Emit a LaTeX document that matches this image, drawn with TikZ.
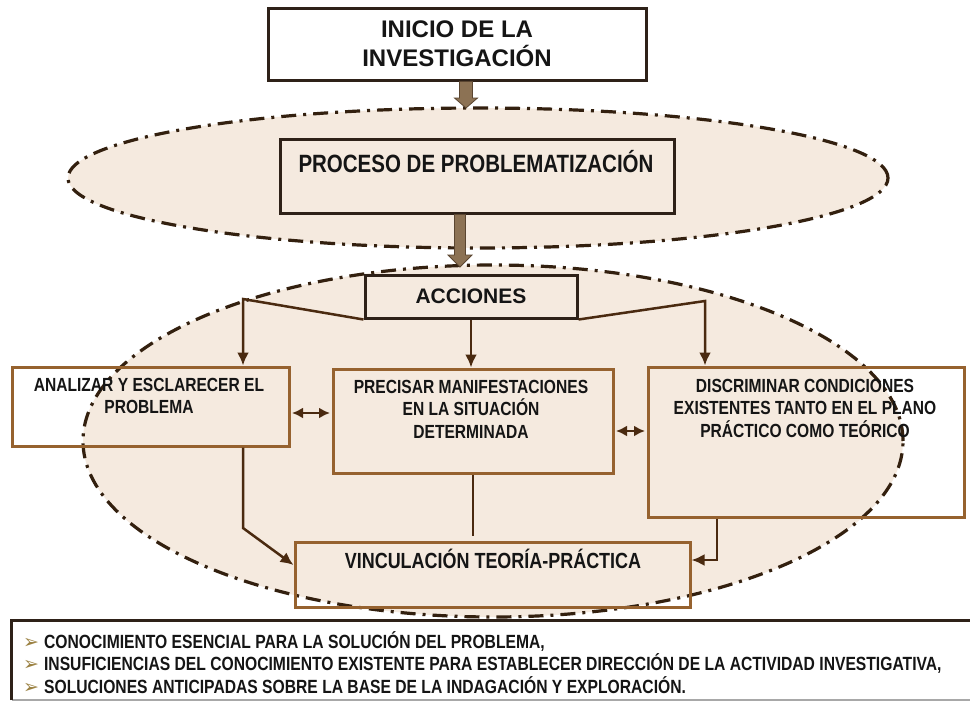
\documentclass[tikz,border=0pt]{standalone}
\usepackage{fontspec}
\setmainfont{Liberation Sans}
\newfontfamily\narrowfont{Liberation Sans}[FakeStretch=0.82]
\newfontfamily\symfont{DejaVu Sans}
\usetikzlibrary{arrows.meta,calc}
\definecolor{ellfill}{HTML}{F5EADF}
\definecolor{ellline}{HTML}{33200F}
\definecolor{darkbox}{HTML}{2E2118}
\definecolor{brownbox}{HTML}{96622F}
\definecolor{connc}{HTML}{4A2A10}
\definecolor{arrfill}{HTML}{8C7254}
\definecolor{arrline}{HTML}{5A4530}
\definecolor{txtc}{HTML}{151515}
\definecolor{bulletc}{HTML}{9A8040}
\definecolor{graybd}{HTML}{A8A8A8}
\tikzset{
  ell/.style={fill=ellfill, draw=ellline, line width=3.2pt, dash pattern=on 15pt off 7pt on 3pt off 7pt},
  darkbx/.style={draw=darkbox, line width=3pt, inner sep=0pt, text=txtc},
  brownbx/.style={draw=brownbox, line width=3pt, inner sep=0pt},
  cn/.style={draw=connc, line width=2.5pt, line join=miter},
  arrtip/.style={-{Latex[length=13pt,width=12pt]}},
  darrtip/.style={{Latex[length=11pt,width=11pt]}-{Latex[length=11pt,width=11pt]}},
  blk/.style={fill=arrfill, draw=arrline, line width=0.8pt},
  tx/.style={inner sep=0pt, text=txtc, align=center},
  nfont/.style={font=\narrowfont\bfseries\fontsize{19}{22.5}\selectfont}
}
\newcommand\bul{{\symfont\fontsize{19}{19}\selectfont\color{bulletc}➢}\hspace{5pt}}
\begin{document}
\begin{tikzpicture}[x=1pt,y=-1pt]
\useasboundingbox (0,0) rectangle (970,702);
\fill[white] (0,0) rectangle (970,702);
% ellipses
\path[ell] (478,178) ellipse [x radius=410pt, y radius=70pt];
\path[ell] (493,441) ellipse [x radius=410pt, y radius=176pt];
% boxes
\node[darkbx, minimum width=378pt, minimum height=72pt, align=center, font=\bfseries\fontsize{24}{29}\selectfont] (inicio) at (457,44) {INICIO DE LA\\INVESTIGACIÓN};
\node[darkbx, minimum width=394pt, minimum height=74pt] (proceso) at (477,176) {};
\node[darkbx, minimum width=212pt, minimum height=43pt, font=\bfseries\fontsize{21}{25}\selectfont] (acc) at (471,296.5) {ACCIONES};
\node[brownbx, minimum width=277pt, minimum height=79pt] (ana) at (150.5,406.5) {};
\node[brownbx, minimum width=280pt, minimum height=104pt] (pre) at (473,421) {};
\node[brownbx, minimum width=316pt, minimum height=150pt] (dis) at (806,442) {};
\node[brownbx, minimum width=395pt, minimum height=65pt] (vin) at (492.5,574.5) {};
\node[inner sep=0pt, minimum width=964pt, minimum height=79pt] (lista) at (494,660.5) {};
\draw[graybd, line width=1.5pt] (lista.south west) -- (lista.south east);
\draw[darkbox, line width=3pt] (lista.south west) -- (lista.north west) -- (lista.north east);
% texts (multi-line nodes: base = last line)
\node[tx, font=\narrowfont\bfseries\fontsize{25}{30}\selectfont, anchor=base] (tproceso) at (476,172) {PROCESO DE PROBLEMATIZACIÓN};
\node[tx, nfont, anchor=base] (tana) at (149,413.5) {ANALIZAR Y ESCLARECER EL\\PROBLEMA};
\node[tx, nfont, anchor=base] (tpre) at (471,438) {PRECISAR MANIFESTACIONES\\EN LA SITUACIÓN\\DETERMINADA};
\node[tx, nfont, anchor=base] (tdis) at (805,437) {DISCRIMINAR CONDICIONES\\EXISTENTES TANTO EN EL PLANO\\PRÁCTICO COMO TEÓRICO};
\node[tx, font=\narrowfont\bfseries\fontsize{21.9}{26}\selectfont, anchor=base] (tvin) at (493,568) {VINCULACIÓN TEORÍA-PRÁCTICA};
\node[tx, align=left, anchor=base west, font=\narrowfont\bfseries\fontsize{19.1}{22.5}\selectfont] (tlista) at (23,693)
 {\bul CONOCIMIENTO ESENCIAL PARA LA SOLUCIÓN DEL PROBLEMA,\\
  \bul INSUFICIENCIAS DEL CONOCIMIENTO EXISTENTE PARA ESTABLECER DIRECCIÓN DE LA ACTIVIDAD INVESTIGATIVA,\\
  \bul SOLUCIONES ANTICIPADAS SOBRE LA BASE DE LA INDAGACIÓN Y EXPLORACIÓN.};
% connectors
\coordinate (lb) at (243,299);
\coordinate (rb) at (705,301);
\coordinate (h1) at (0,413);
\coordinate (h2) at (0,431);
\coordinate (bl) at (243,528);
\coordinate (vl) at (0,565);
\coordinate (br) at (717,560);
\draw[cn, arrtip] (acc.south west) -- (lb) -- (lb |- ana.north);
\draw[cn, arrtip] (acc.south) -- (acc.south |- pre.north);
\draw[cn, arrtip] (acc.south east) -- (rb) -- (rb |- dis.north);
\draw[cn, darrtip, shorten <=1.5pt, shorten >=1.5pt] (ana.east |- h1) -- (pre.west |- h1);
\draw[cn, darrtip, shorten <=1.5pt, shorten >=1.5pt] (pre.east |- h2) -- (dis.west |- h2);
\draw[cn, arrtip] (lb |- ana.south) -- (bl) -- (vin.west |- vl);
\draw[cn, shorten >=5pt] (pre.south) -- (pre.south |- vin.north);
\draw[cn, arrtip] (br |- dis.south) -- (br) -- (vin.east |- br);
% block arrows
\coordinate (t1) at (466,108);
\coordinate (t2) at (460,267);
\draw[blk] let \p1=(inicio.south -| t1), \p2=(t1) in
  (\x1-6.5pt,\y1) -- (\x1+6.5pt,\y1) -- (\x2+6.5pt,\y2+10pt) -- (\x2+11.5pt,\y2+10pt) -- (\p2)
  -- (\x2-11.5pt,\y2+10pt) -- (\x2-6.5pt,\y2+10pt) -- cycle;
\draw[blk] let \p1=(proceso.south -| t2), \p2=(t2) in
  (\x1-5.5pt,\y1) -- (\x1+5.5pt,\y1) -- (\x2+5.5pt,\y2+12pt) -- (\x2+12pt,\y2+12pt) -- (\p2)
  -- (\x2-12pt,\y2+12pt) -- (\x2-5.5pt,\y2+12pt) -- cycle;
\end{tikzpicture}
\end{document}
